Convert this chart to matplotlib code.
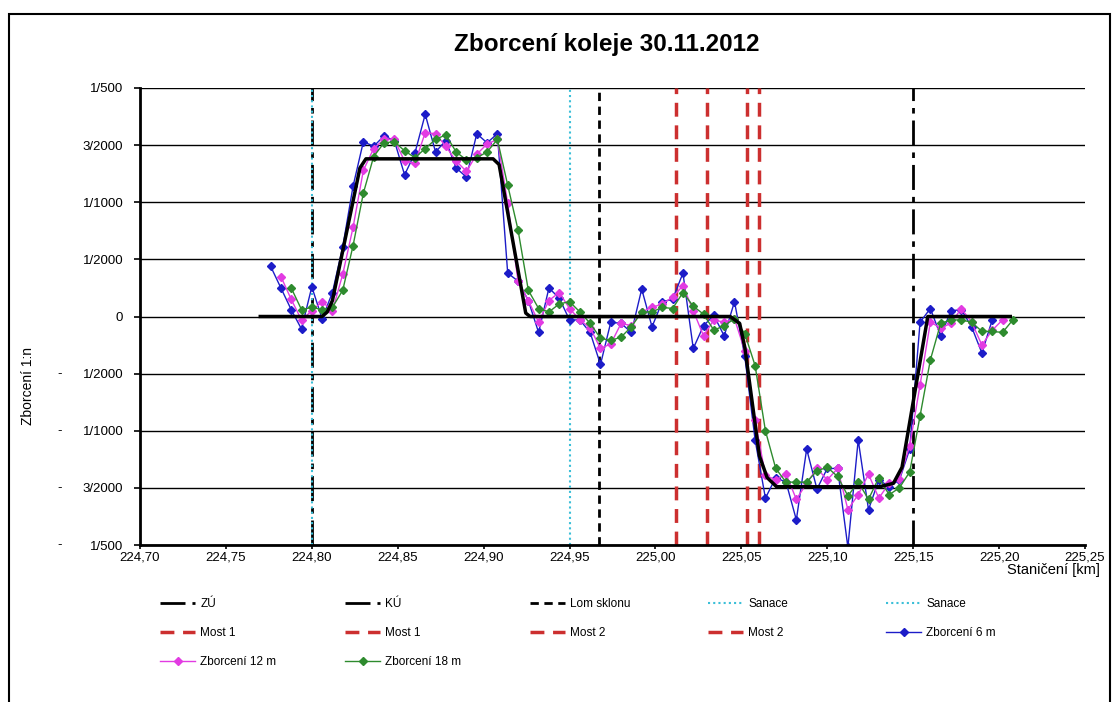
import numpy as np
import matplotlib.pyplot as plt
from matplotlib.patches import Rectangle

plt.rcParams['font.family'] = ['Liberation Sans', 'DejaVu Sans']

# measuring stations [km], one every 6 m
stations = [224.776, 224.782, 224.788, 224.794, 224.800, 224.806, 224.812, 224.818, 224.824, 224.830,
            224.836, 224.842, 224.848, 224.854, 224.860, 224.866, 224.872, 224.878, 224.884, 224.890,
            224.896, 224.902, 224.908, 224.914, 224.920, 224.926, 224.932, 224.938, 224.944, 224.950,
            224.956, 224.962, 224.968, 224.974, 224.980, 224.986, 224.992, 224.998, 225.004, 225.010,
            225.016, 225.022, 225.028, 225.034, 225.040, 225.046, 225.052, 225.058, 225.064, 225.070,
            225.076, 225.082, 225.088, 225.094, 225.100, 225.106, 225.112, 225.118, 225.124, 225.130,
            225.136, 225.142, 225.148, 225.154, 225.160, 225.166, 225.172, 225.178, 225.184, 225.190,
            225.196, 225.202, 225.208]

# measured twist in 1/1000 units
tw6 = [0.44, 0.25, 0.06, -0.11, 0.26, -0.02, 0.21, 0.61, 1.14, 1.53,
       1.49, 1.58, 1.54, 1.24, 1.43, 1.77, 1.44, 1.54, 1.30, 1.22,
       1.60, 1.52, 1.60, 0.38, 0.31, 0.14, -0.14, 0.25, 0.16, -0.03,
       -0.03, -0.14, -0.42, -0.05, -0.06, -0.14, 0.24, -0.09, 0.13, 0.15,
       0.38, -0.28, -0.08, 0.01, -0.17, 0.13, -0.35, -1.08, -1.59, -1.41,
       -1.45, -1.78, -1.16, -1.51, -1.33, -1.33, -2.02, -1.08, -1.69, -1.43,
       -1.49, -1.43, -1.16, -0.05, 0.07, -0.17, 0.05, 0.06, -0.09, -0.32,
       -0.03]
tw12 = [0.35, 0.15, -0.03, 0.05, 0.13, 0.05, 0.37, 0.78, 1.28, 1.47,
        1.55, 1.55, 1.36, 1.34, 1.61, 1.60, 1.49, 1.36, 1.27, 1.42,
        1.51, 1.55, 0.99, 0.31, 0.14, -0.05, 0.14, 0.21, 0.07, -0.03,
        -0.10, -0.28, -0.24, -0.06, -0.08, 0.04, 0.08, 0.11, 0.17, 0.27,
        0.05, -0.17, -0.03, -0.05, -0.02, -0.30, -0.91, -1.39, -1.43, -1.38,
        -1.60, -1.46, -1.33, -1.43, -1.33, -1.69, -1.56, -1.38, -1.59, -1.46,
        -1.42, -1.13, -0.60, -0.05, -0.10, -0.06, 0.07, -0.05, -0.25, -0.12,
        -0.03]
tw18 = [0.25, 0.06, 0.08, 0.06, 0.08, 0.23, 0.62, 1.08, 1.40, 1.52,
        1.53, 1.45, 1.39, 1.47, 1.55, 1.59, 1.44, 1.37, 1.39, 1.44,
        1.55, 1.15, 0.76, 0.23, 0.07, 0.04, 0.11, 0.13, 0.04, -0.06,
        -0.19, -0.21, -0.18, -0.09, 0.04, 0.04, 0.08, 0.07, 0.21, 0.09,
        0.02, -0.12, -0.08, -0.02, -0.15, -0.43, -1.00, -1.33, -1.45, -1.45,
        -1.45, -1.35, -1.32, -1.40, -1.57, -1.45, -1.60, -1.41, -1.56, -1.50,
        -1.36, -0.87, -0.38, -0.06, -0.03, -0.03, -0.05, -0.13, -0.13, -0.14,
        -0.03]

# design twist (ramps of the cant)
design_km = [224.770, 224.806, 224.809, 224.812, 224.828, 224.8315, 224.9055, 224.909,
             224.9245, 224.927, 225.0435, 225.049, 225.052, 225.0605, 225.065, 225.0705,
             225.1305, 225.1385, 225.1435, 225.1585, 225.2065]
design_tw = [0, 0, 0.04, 0.14, 1.30, 1.38, 1.38, 1.33,
             0.03, 0, 0, -0.06, -0.27, -1.22, -1.41, -1.49,
             -1.49, -1.46, -1.32, 0, 0]

zu_km, ku_km = 224.800, 225.150
lom_km = 224.967
sanace_km = [224.800, 224.950]
most1_km = [225.012, 225.030]
most2_km = [225.0535, 225.060]

yticks = [-2, -1.5, -1, -0.5, 0, 0.5, 1, 1.5, 2]
ylabels = ['1/500', '3/2000', '1/1000', '1/2000', '0', '1/2000', '1/1000', '3/2000', '1/500']

W, H = 1113, 702
fig = plt.figure(figsize=(W / 100, H / 100), dpi=100)
ax = fig.add_axes([140 / W, 157 / H, 945 / W, 457 / H])

# chart frame
fig.patches.append(Rectangle((9 / W, -0.02), 1101 / W, 1 - 14 / H + 0.02,
                             transform=fig.transFigure, fill=False, ec='black', lw=1.5))

dashdot = (0, (9, 2.5, 2, 2.5))
red = '#CC2F2F'
cyan = '#3BBFD8'

h_zu = ax.axvline(zu_km, color='black', lw=2, ls=dashdot, zorder=2)
h_ku = ax.axvline(ku_km, color='black', lw=2, ls=dashdot, zorder=2)
h_lom = ax.axvline(lom_km, color='black', lw=2, ls=(0, (3, 2)), zorder=2)
h_san = [ax.axvline(k, color=cyan, lw=1.5, ls=(0, (1, 1.5)), zorder=3) for k in sanace_km]
h_m1 = [ax.axvline(k, color=red, lw=2.5, ls=(0, (4, 2.5)), zorder=2) for k in most1_km]
h_m2 = [ax.axvline(k, color=red, lw=2.5, ls=(0, (4, 2.5)), zorder=2) for k in most2_km]

h6, = ax.plot(stations[0:71], tw6, color='#1C1CC8', lw=1, marker='D', ms=4, zorder=4)
h12, = ax.plot(stations[1:72], tw12, color='#E23BE2', lw=1, marker='D', ms=4, zorder=4)
h18, = ax.plot(stations[2:73], tw18, color='#2E8B2E', lw=1, marker='D', ms=4, zorder=4)
ax.plot(design_km, design_tw, color='black', lw=2.5, zorder=5, solid_joinstyle='round')

ax.set_xlim(224.70, 225.25)
ax.set_ylim(-2, 2)
xt = np.arange(224.70, 225.2501, 0.05)
ax.set_xticks(xt)
ax.set_xticklabels([f'{v:.2f}'.replace('.', ',') for v in xt], fontsize=9.5)
ax.set_yticks(yticks)
ax.set_yticklabels(ylabels, fontsize=9.5)
for t in yticks:
    if t < 0:
        ax.text(-0.085, t, '-', transform=ax.get_yaxis_transform(),
                ha='center', va='center', fontsize=9.5)
ax.tick_params(axis='x', length=3, width=1.2, pad=1.5)
ax.tick_params(axis='y', length=4, width=1.2, pad=8)
ax.grid(axis='y', color='black', lw=1.0)
ax.set_axisbelow(True)
for s in ('top', 'right'):
    ax.spines[s].set_visible(False)
for s in ('left', 'bottom'):
    ax.spines[s].set_linewidth(2)
    ax.spines[s].set_zorder(6)

fig.text(607 / W, 1 - 45 / H, 'Zborcení koleje 30.11.2012', ha='center', va='center',
         fontsize=17.5, fontweight='bold')
fig.text(28 / W, 316 / H, 'Zborcení 1:n', rotation=90, ha='center', va='center',
         fontsize=10)
fig.text(1100 / W, 1 - 570 / H, 'Staničení [km]', ha='right', va='center', fontsize=10.5)

# legend laid out row by row, one legend per column
columns = [
    [(h_zu, 'ZÚ'), (h_m1[0], 'Most 1'), (h12, 'Zborcení 12 m')],
    [(h_ku, 'KÚ'), (h_m1[1], 'Most 1'), (h18, 'Zborcení 18 m')],
    [(h_lom, 'Lom sklonu'), (h_m2[0], 'Most 2')],
    [(h_san[0], 'Sanace'), (h_m2[1], 'Most 2')],
    [(h_san[1], 'Sanace'), (h6, 'Zborcení 6 m')],
]
col_x = [160, 345, 530, 708, 886]
for cx, entries in zip(col_x, columns):
    fig.legend([e[0] for e in entries], [e[1] for e in entries],
               loc='upper left', bbox_to_anchor=(cx / W, 1 - 598 / H),
               frameon=False, fontsize=8.5, handlelength=3.0, handletextpad=0.4,
               labelspacing=1.45, borderpad=0, borderaxespad=0)

fig.savefig('out.png', dpi=100)
